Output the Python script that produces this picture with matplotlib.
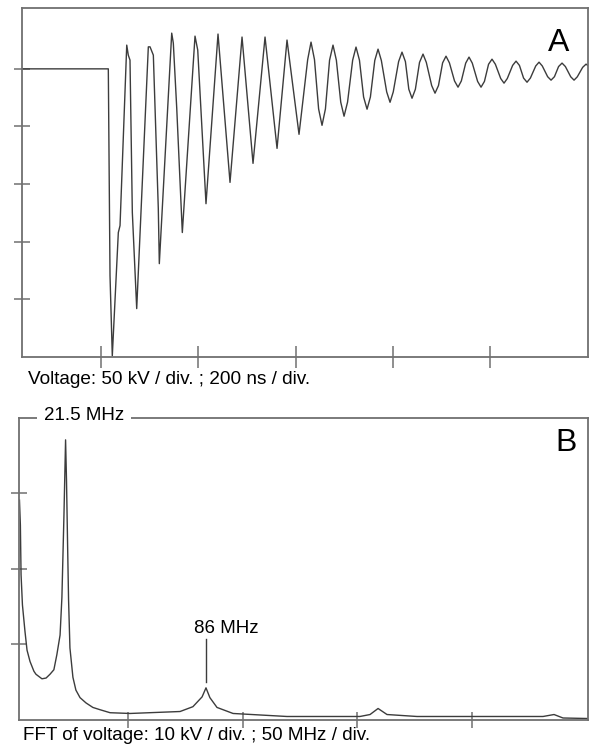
import matplotlib
matplotlib.use('Agg')
import matplotlib.pyplot as plt

# panel A: voltage waveform (ns, kV)
time_ns = [-162, 15.0, 18.5, 23.2, 35.6, 39.1, 52.9, 56.1, 59.6, 64.4, 73.4,
           97.3, 100.8, 107.6, 117.8, 119.9, 145.4, 148.7, 155.7, 167.2,
           193.3, 198.9, 215.9, 240.6, 265.3, 290.0, 312.6, 337.3, 362.0,
           382.5, 407.2,
           425, 431.9, 439, 447.5, 454.5, 461.5, 470, 477.1, 484,
           493, 499.8, 507, 517.5, 524.4, 531.5, 540, 547.1, 554,
           563, 569.7, 576.5, 587.5, 594.4, 601, 612, 619.0, 626,
           633, 639.6, 646.5, 655, 662.2, 669, 680, 686.9, 694,
           702.5, 709.5, 716.5, 727, 734.2, 741, 750, 756.8, 763.5,
           774.5, 781.5, 788.5, 797, 804.1, 811, 822, 828.8, 835.5,
           846.5, 853.5, 860.5, 869, 876.1, 883, 894, 900.8, 907.5,
           918.5, 925.5, 932.5, 941, 948.1, 955, 966, 972.8, 979.5,
           990.5, 997.5, 1003]
voltage_kv = [0, 0, -179.4, -249, -142, -136, 20.6, 11.9, 7.6, -124.6, -208,
              19.1, 19.1, 11.9, -121, -169, 31, 22.3, -34, -142,
              28.4, 16.3, -117, 30.2, -98.5, 27.6, -82, 27.6, -69,
              25, -56.8,
              8.0, 23.2, 8.0, -34.8, -49, -34.8, 7.5, 20.6, 7.5,
              -28.9, -41.1, -28.9, 7.5, 18.9, 7.5, -24.4, -35, -24.4,
              7.3, 17.1, 7.3, -20, -29, -20, 6.3, 14.5, 6.3,
              -17.7, -25.5, -17.7, 5.6, 12.8, 5.6, -14.5, -21.1, -14.5,
              5.2, 11, 5.2, -10.5, -15.9, -10.5, 5.0, 10.2, 5.0,
              -10.9, -15.9, -10.9, 4.0, 8.4, 4.0, -8.4, -12.4, -8.4,
              3.0, 6.7, 3.0, -8.0, -11.6, -8.0, 2.5, 5.8, 2.5,
              -6.8, -9.8, -6.8, 2.0, 5.0, 2.0, -6.9, -9.8, -6.9,
              1.3, 4.1, 2.3]

# panel B: FFT of voltage (MHz, kV)
freq_mhz = [2.7, 3.1, 3.4, 4.0, 5.1, 6.0, 7.3, 9.0, 9.9, 12.5, 14.3, 16.0,
            17.7, 19.0, 20.4, 21.2, 22.1, 22.8, 23.2, 23.7, 24.1, 24.7,
            26.0, 27.3, 29.1, 31.7, 34.7, 37.8, 42.2, 50.9, 72.7, 78.3,
            82.3, 84.0, 85.7, 88.8, 95.8, 119.3, 151.1, 155.5, 159.0, 162.9,
            176.0, 230.9, 235.7, 239.6, 250.5]
fft_kv = [29.1, 25.8, 19.2, 15.2, 11.7, 9.2, 7.7, 6.4, 6.0, 5.4, 5.5, 6.0,
          6.6, 8.6, 11.2, 16.2, 27.2, 37.1, 31.8, 22.8, 15.9, 9.5,
          5.6, 3.9, 2.9, 2.2, 1.6, 1.3, 0.9, 0.8, 1.06, 1.7,
          3.0, 4.2, 2.9, 1.6, 0.8, 0.4, 0.4, 0.66, 1.46, 0.66,
          0.4, 0.4, 0.66, 0.2, 0.13]

line_col = '#3c3c3c'
spine_col = '#707070'
plt.rcParams['font.family'] = ['Liberation Sans', 'DejaVu Sans']

fig = plt.figure(figsize=(5.89, 7.46), dpi=100)

# ---- panel A ----
ax1 = fig.add_axes([22 / 589, 1 - 357 / 746, 566 / 589, 349 / 746])
ax1.plot(time_ns, voltage_kv, color=line_col, lw=1.0, solid_joinstyle='round')
ax1.set_xlim(-162.5, 1001.5)
ax1.set_ylim(-250, 52.8)
ax1.set_xticks([0, 200, 400, 600, 800])
ax1.set_yticks([0, -50, -100, -150, -200])
ax1.tick_params(axis='x', direction='inout', length=15.5, width=1.1, color=spine_col)
ax1.tick_params(axis='y', direction='inout', length=12, width=1.1, color=spine_col)
ax1.set_xticklabels([])
ax1.set_yticklabels([])
for s in ax1.spines.values():
    s.set_color(spine_col)
    s.set_linewidth(1.3)
ax1.text(0.948, 0.90, 'A', transform=ax1.transAxes, fontsize=23,
         ha='center', va='center')
fig.text(28 / 589, 1 - 380 / 746, 'Voltage: 50 kV / div. ; 200 ns / div.',
         fontsize=13.7, ha='left', va='center')

# ---- panel B ----
ax2 = fig.add_axes([19 / 589, 1 - 719.5 / 746, 569 / 589, 301.5 / 746])
ax2.plot(freq_mhz, fft_kv, color=line_col, lw=1.0, solid_joinstyle='round')
ax2.set_xlim(2.5, 250.5)
ax2.set_ylim(0, 40)
ax2.set_xticks([50, 100, 150, 200])
ax2.set_yticks([10, 20, 30])
ax2.tick_params(axis='x', direction='inout', length=12, width=1.1, color=spine_col)
ax2.tick_params(axis='y', direction='inout', length=11, width=1.1, color=spine_col)
ax2.set_xticklabels([])
ax2.set_yticklabels([])
for s in ax2.spines.values():
    s.set_color(spine_col)
    s.set_linewidth(1.3)
ax2.text(30.8, 40.3, '21.5 MHz', fontsize=13.5, ha='center', va='center',
         clip_on=False, zorder=5,
         bbox=dict(facecolor='white', edgecolor='none', pad=5))
ax2.plot([84.0, 84.0], [5.0, 10.7], color=line_col, lw=1.0)
ax2.text(78.8, 12.1, '86 MHz', fontsize=13.5, ha='left', va='center')
ax2.text(0.961, 0.917, 'B', transform=ax2.transAxes, fontsize=23,
         ha='center', va='center')
fig.text(23 / 589, 1 - 735 / 746, 'FFT of voltage: 10 kV / div. ; 50 MHz / div.',
         fontsize=13.6, ha='left', va='center')

fig.savefig('out.png', dpi=100)
